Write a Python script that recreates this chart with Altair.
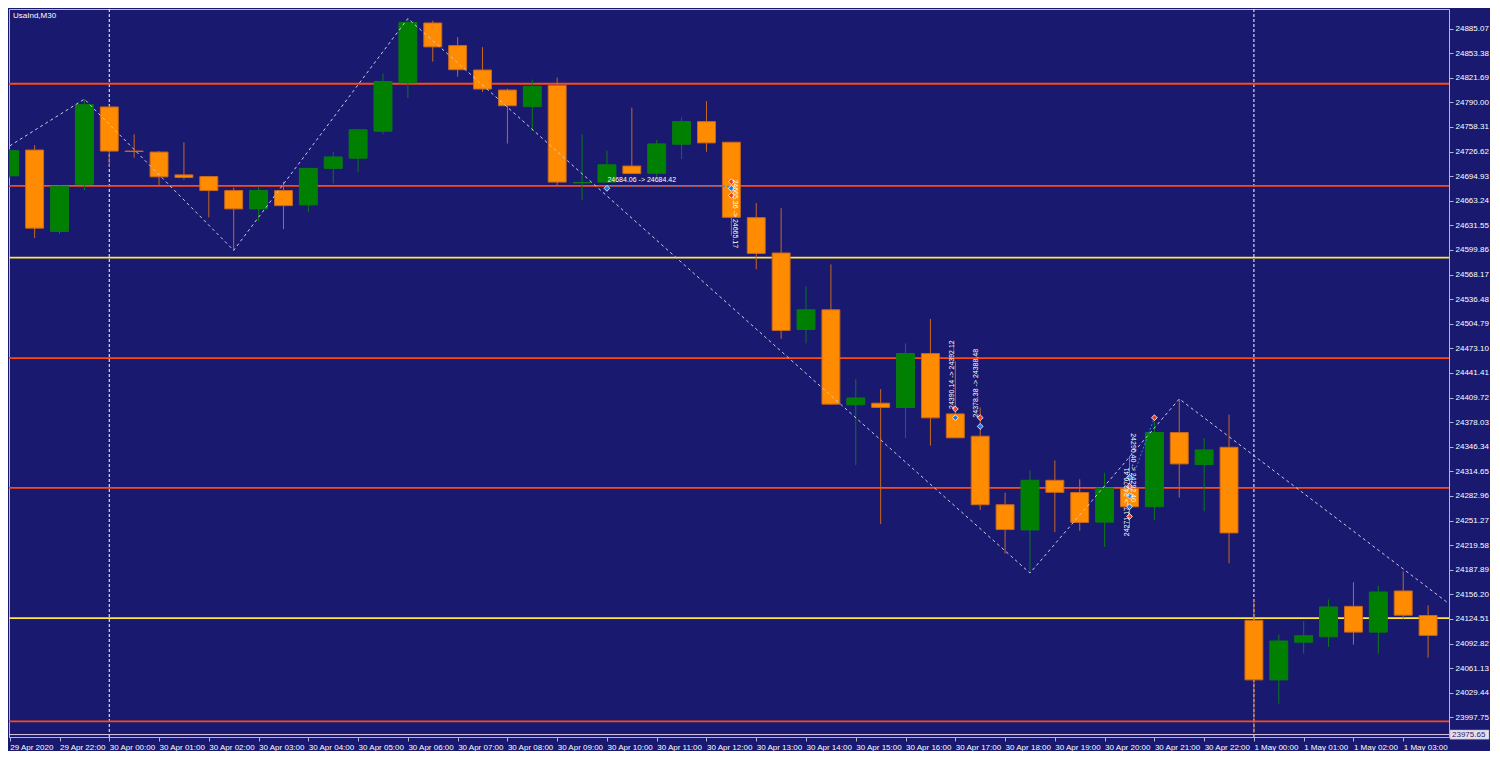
import altair as alt
import pandas as pd

# ---------------- data ----------------
opens = [24695.4, 24728.6, 24623.8, 24684.4, 24784.1, 24727.3, 24726.0, 24696.6, 24694.5, 24676.4,
         24652.8, 24676.4, 24657.9, 24705.0, 24718.1, 24752.9, 24815.3, 24892.3, 24863.2, 24831.7,
         24805.9, 24784.5, 24811.9, 24686.3, 24687.3, 24708.0, 24698.7, 24736.1, 24765.2, 24738.7,
         24641.5, 24596.0, 24497.6, 24522.8, 24400.4, 24402.5, 24397.0, 24466.4, 24388.7, 24360.0,
         24271.7, 24239.2, 24303.2, 24287.4, 24249.3, 24293.1, 24269.1, 24364.7, 24323.4, 24345.7,
         24122.7, 24046.1, 24094.6, 24101.6, 24140.8, 24107.6, 24160.6, 24129.0]
highs = [24729.8, 24734.9, 24683.1, 24794.2, 24785.4, 24748.8, 24727.3, 24738.7, 24695.4, 24680.2,
         24681.5, 24687.8, 24705.8, 24726.0, 24755.1, 24827.4, 24898.1, 24895.2, 24874.1, 24861.1,
         24807.7, 24819.4, 24822.0, 24748.8, 24727.7, 24783.2, 24741.6, 24770.6, 24791.7, 24738.7,
         24660.4, 24653.7, 24552.7, 24581.3, 24433.2, 24420.6, 24479.5, 24511.1, 24456.3, 24397.0,
         24287.2, 24315.8, 24328.8, 24304.5, 24312.9, 24334.4, 24378.6, 24408.0, 24357.5, 24387.8,
         24150.1, 24104.2, 24121.8, 24149.6, 24171.9, 24166.9, 24185.8, 24142.0]
lows = [24693.2, 24615.3, 24620.4, 24676.8, 24707.1, 24718.8, 24683.5, 24690.7, 24641.9, 24599.4,
        24637.3, 24626.7, 24649.0, 24685.6, 24699.9, 24748.8, 24795.8, 24842.5, 24823.2, 24803.4,
        24737.0, 24752.9, 24683.5, 24663.8, 24686.8, 24697.8, 24694.1, 24717.2, 24726.4, 24618.4,
        24575.0, 24485.3, 24479.5, 24400.6, 24322.5, 24246.8, 24357.5, 24347.8, 24357.6, 24265.0,
        24208.9, 24183.7, 24236.3, 24238.2, 24217.4, 24241.7, 24251.5, 24280.9, 24263.2, 24196.3,
        23977.6, 24015.4, 24079.8, 24088.6, 24091.5, 24079.8, 24124.9, 24074.8]
closes = [24727.7, 24628.0, 24681.9, 24787.0, 24727.3, 24726.7, 24694.1, 24693.2, 24676.4, 24652.8,
          24676.4, 24657.0, 24705.0, 24719.7, 24754.7, 24816.9, 24893.0, 24861.5, 24832.1, 24807.2,
          24785.7, 24810.6, 24687.3, 24686.9, 24709.6, 24698.3, 24736.5, 24765.2, 24737.8, 24641.9,
          24595.4, 24496.3, 24522.8, 24401.3, 24409.2, 24397.0, 24466.4, 24383.6, 24357.9, 24271.7,
          24239.7, 24303.2, 24287.7, 24248.9, 24293.1, 24269.1, 24364.7, 24324.3, 24342.3, 24235.4,
          24046.1, 24096.2, 24102.9, 24140.0, 24107.6, 24159.3, 24129.4, 24103.4]

x_tick_labels = ["29 Apr 2020", "29 Apr 22:00",
                 "30 Apr 00:00", "30 Apr 01:00", "30 Apr 02:00", "30 Apr 03:00", "30 Apr 04:00",
                 "30 Apr 05:00", "30 Apr 06:00", "30 Apr 07:00", "30 Apr 08:00", "30 Apr 09:00",
                 "30 Apr 10:00", "30 Apr 11:00", "30 Apr 12:00", "30 Apr 13:00", "30 Apr 14:00",
                 "30 Apr 15:00", "30 Apr 16:00", "30 Apr 17:00", "30 Apr 18:00", "30 Apr 19:00",
                 "30 Apr 20:00", "30 Apr 21:00", "30 Apr 22:00",
                 "1 May 00:00", "1 May 01:00", "1 May 02:00", "1 May 03:00"]
x_tick_pos = [0, 2, 4, 6, 8, 10, 12, 14, 16, 18, 20, 22, 24, 26, 28, 30, 32, 34, 36, 38,
              40, 42, 44, 46, 48, 50, 52, 54, 56]
y_tick_values = [24885.07, 24853.38, 24821.69, 24790.00, 24758.31, 24726.62, 24694.93, 24663.24,
                 24631.55, 24599.86, 24568.17, 24536.48, 24504.79, 24473.10, 24441.41, 24409.72,
                 24378.03, 24346.34, 24314.65, 24282.96, 24251.27, 24219.58, 24187.89, 24156.20,
                 24124.51, 24092.82, 24061.13, 24029.44, 23997.75]

level_prices = [24814.0, 24682.5, 24590.1, 24460.6, 24293.5, 24125.6, 23992.7]
level_colors = ["#FF4A12", "#FF4A12", "#FFE83A", "#FF4A12", "#FF4A12", "#FFE83A", "#FF4A12"]
bid_price = 23975.65

zig_x = [0.0, 3, 9, 16, 41, 47, 57.84]
zig_p = [24734.0, 24794.2, 24599.4, 24898.1, 24183.7, 24408.0, 24144.2]

separator_x = [4, 50]

note_x = [25.4, 29.14, 37.85, 38.84, 44.88, 45.14]
note_p = [24689.4, 24646.5, 24439.3, 24428.2, 24275.4, 24319.6]
note_t = ["24684.06 -> 24684.42", "24665.36 -> 24665.17", "24390.14 -> 24392.12",
          "24378.38 -> 24388.48", "24271.17 -> 24276.41", "24290.40 -> 24292.40"]
note_a = [0, 90, 270, 270, 270, 90]

mark_x = [24, 29, 29, 29, 38, 38, 39, 39, 45, 45, 45, 45, 45, 46]
mark_p = [24679.3, 24687.8, 24679.3, 24670.1, 24395.1, 24383.8, 24383.8, 24372.6,
          24307.0, 24295.6, 24283.0, 24269.1, 24256.6, 24383.8]
mark_c = ["#1E78E0", "#F03C20", "#1E78E0", "#F03C20", "#F03C20", "#1E78E0", "#F03C20", "#1E78E0",
          "#1E78E0", "#F03C20", "#1E78E0", "#1E78E0", "#F03C20", "#F03C20"]

trade_x = [24, 29, 45, 46]
trade_p = [24682.0, 24682.0, 24295.6, 24383.8]
trade_g = ["a", "a", "b", "b"]

# ---------------- styling ----------------
BG = "#191970"
FRAME = "#B4B4D4"
FONT = "Liberation Sans"
W, H = 1440, 728

n = len(opens)
df = pd.DataFrame({"i": list(range(n)), "o": opens, "h": highs, "l": lows, "c": closes})
df["bull"] = df["c"] >= df["o"]
df["bt"] = df[["o", "c"]].max(axis=1)
df["bb"] = df[["o", "c"]].min(axis=1)
df["x0"] = df["i"] - 0.36
df["x1"] = df["i"] + 0.36
df["body"] = df["bull"].map({True: "#008000", False: "#FF8C00"})
df["wick"] = df["bull"].map({True: "#0B7A14", False: "#C8681E"})

xs = alt.Scale(domain=[-0.03, 57.84], nice=False, zero=False)
ys = alt.Scale(domain=[23972.5, 24910.3], nice=False, zero=False)

label_js = "[" + ",".join("'" + s + "'" for s in x_tick_labels) + "]"
xaxis = alt.Axis(title=None, values=x_tick_pos, labelExpr=label_js + "[datum.value/2]",
                 orient="bottom", grid=False, tickSize=4, tickColor=FRAME, domainColor=FRAME,
                 labelAlign="left", labelPadding=2, labelColor="#FFFFFF",
                 labelFont=FONT, labelFontSize=8, labelOverlap=False, labelFlush=False)
yaxis = alt.Axis(title=None, values=y_tick_values, format=".2f", orient="right", grid=False,
                 tickSize=4, tickColor=FRAME, domainColor=FRAME, labelAlign="left",
                 labelBaseline="middle", labelPadding=2, labelColor="#FFFFFF",
                 labelFont=FONT, labelFontSize=8, labelOverlap=False, labelFlush=False)

base = alt.Chart(df)

sep_df = pd.DataFrame({"i": separator_x})
separators = alt.Chart(sep_df).mark_rule(color="#FFFFFF", strokeDash=[3, 2], strokeWidth=1).encode(
    x=alt.X("i:Q", scale=xs, axis=xaxis))

zig_df = pd.DataFrame({"i": zig_x, "p": zig_p, "k": list(range(len(zig_x)))})
zigzag = alt.Chart(zig_df).mark_line(color="#CACAE2", strokeDash=[3, 3], strokeWidth=1, clip=True).encode(
    x=alt.X("i:Q", scale=xs, axis=xaxis), y=alt.Y("p:Q", scale=ys, axis=yaxis), order="k:Q")

wicks = base.mark_rule(strokeWidth=1, clip=True).encode(
    x=alt.X("i:Q", scale=xs, axis=xaxis), y=alt.Y("l:Q", scale=ys, axis=yaxis), y2="h:Q",
    color=alt.Color("wick:N", scale=None))

bodies = base.mark_rect(strokeWidth=1, clip=True).encode(
    x=alt.X("x0:Q", scale=xs, axis=xaxis), x2="x1:Q",
    y=alt.Y("bt:Q", scale=ys, axis=yaxis), y2="bb:Q",
    fill=alt.Fill("body:N", scale=None), stroke=alt.Stroke("wick:N", scale=None))

lev_df = pd.DataFrame({"p": level_prices, "col": level_colors})
levels = alt.Chart(lev_df).mark_rule(strokeWidth=1.8).encode(
    y=alt.Y("p:Q", scale=ys, axis=yaxis), color=alt.Color("col:N", scale=None))

bid_df = pd.DataFrame({"p": [bid_price], "lo": [bid_price - 6.0], "hi": [bid_price + 6.0],
                       "t": [f"{bid_price:.2f}"]})
bid_line = alt.Chart(bid_df).mark_rule(color="#DCC8E4", strokeWidth=1).encode(
    y=alt.Y("p:Q", scale=ys, axis=yaxis))
bid_box = alt.Chart(bid_df).mark_rect(fill="#E8E0EC", stroke="#9A9AB8", strokeWidth=0.5).encode(
    x=alt.value(W + 1), x2=alt.value(W + 40),
    y=alt.Y("hi:Q", scale=ys, axis=yaxis), y2="lo:Q")
bid_text = alt.Chart(bid_df).mark_text(align="left", baseline="middle", font=FONT, fontSize=8,
                                       color=BG).encode(
    x=alt.value(W + 3), y=alt.Y("p:Q", scale=ys, axis=yaxis), text="t:N")

tr_df = pd.DataFrame({"i": trade_x, "p": trade_p, "g": trade_g})
trades = alt.Chart(tr_df).mark_line(color="#2A7FE8", strokeDash=[2, 2], strokeWidth=1).encode(
    x=alt.X("i:Q", scale=xs, axis=xaxis), y=alt.Y("p:Q", scale=ys, axis=yaxis), detail="g:N")

mk_df = pd.DataFrame({"i": mark_x, "p": mark_p, "col": mark_c})
markers = alt.Chart(mk_df).mark_point(shape="diamond", filled=True, size=34, stroke="#FFFFFF",
                                      strokeWidth=0.8, opacity=1).encode(
    x=alt.X("i:Q", scale=xs, axis=xaxis), y=alt.Y("p:Q", scale=ys, axis=yaxis),
    fill=alt.Fill("col:N", scale=None))

nt_df = pd.DataFrame({"i": note_x, "p": note_p, "t": note_t, "a": note_a})
notes = alt.Chart(nt_df).mark_text(font=FONT, fontSize=7, color="#FFFFFF", align="center",
                                   baseline="middle").encode(
    x=alt.X("i:Q", scale=xs, axis=xaxis), y=alt.Y("p:Q", scale=ys, axis=yaxis), text="t:N",
    angle=alt.Angle("a:Q", scale=None))

title_df = pd.DataFrame({"t": ["UsaInd,M30"]})
title = alt.Chart(title_df).mark_text(align="left", baseline="middle", font=FONT, fontSize=8,
                                      color="#FFFFFF").encode(
    x=alt.value(4), y=alt.value(7), text="t:N")

chart = alt.layer(
    separators, levels, bid_line, wicks, bodies, zigzag, trades, markers, notes, title,
    bid_box, bid_text
).properties(
    width=W, height=H, background=BG, padding=0
).configure_view(
    fill=BG, stroke=FRAME, strokeWidth=1
)

chart.save("out.html", embed_options={"renderer": "svg", "actions": False})
